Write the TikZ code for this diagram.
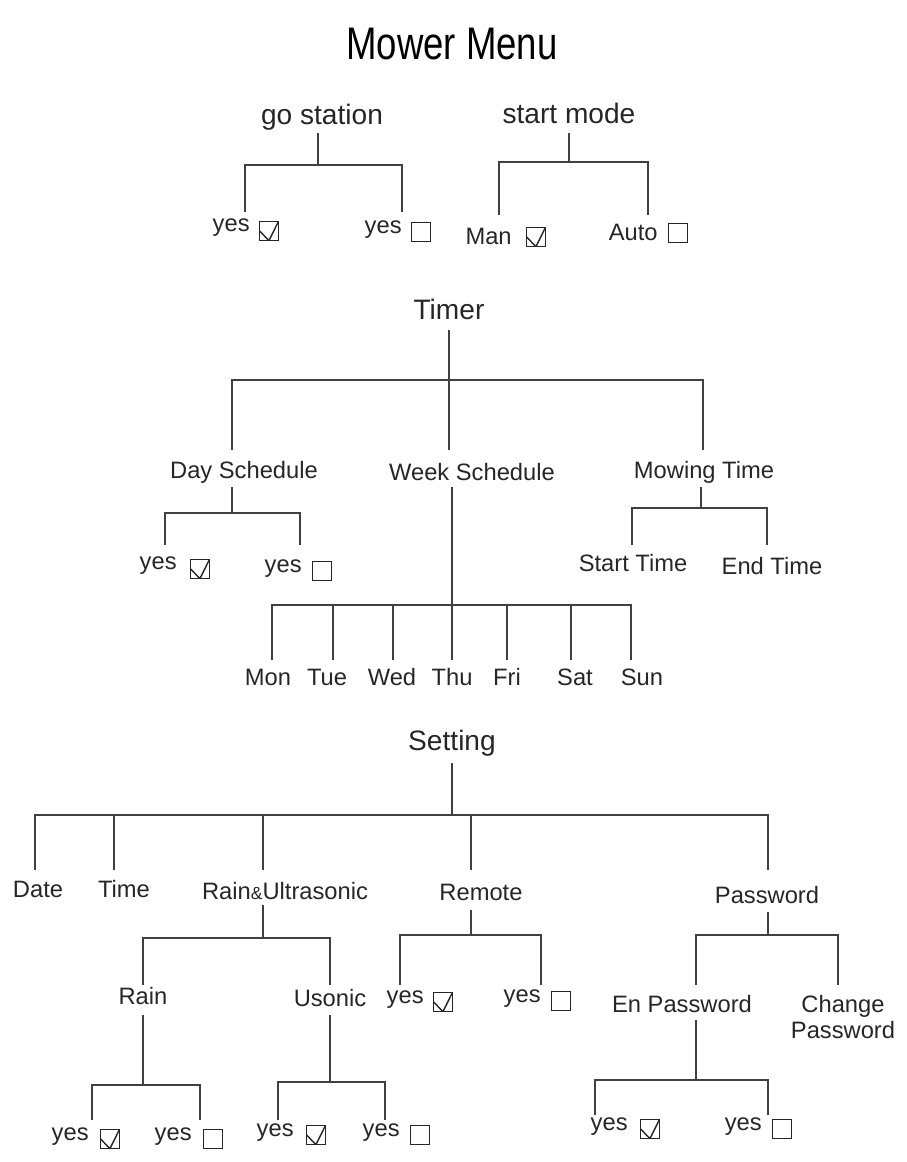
\documentclass[tikz,border=0pt]{standalone}
\usepackage{fontspec}
\setmainfont{Liberation Sans}
\begin{document}
\begin{tikzpicture}[x=0.02cm,y=-0.02cm,
  t/.style={font=\fontsize{13.5}{15}\selectfont,inner sep=0pt,text=black!85},
  ln/.style={draw=black!75,line width=0.9pt},
  box/.style={draw=black!85,line width=0.8pt,minimum size=0.38cm,inner sep=0pt},
  cbox/.style={box,path picture={\draw[black!85,line width=0.8pt]
     ([shift={(0.08,0.0)}]path picture bounding box.west) -- ([shift={(-0.02,0.08)}]path picture bounding box.south) -- ([shift={(-0.06,-0.02)}]path picture bounding box.north east);}}]
\useasboundingbox (0,0) rectangle (906,1162);
\node[font=\fontsize{26}{30}\selectfont,xscale=0.8,inner sep=0pt] (title) at (452,44) {Mower Menu};
% commands
\newcommand{\yesc}[3]{\node[t,anchor=east] at (#1,#2) {#3}; \node[cbox] at ($(#1,#2)+(20,2)$) {};}
\newcommand{\yesu}[3]{\node[t,anchor=east] at (#1,#2) {#3}; \node[box] at ($(#1,#2)+(20,2)$) {};}
% go station
\node[t,font=\fontsize{16}{18}\selectfont] (gs) at (322,117) {go station};
\draw[ln] (318,133)--(318,165) (245,212)--(245,165)--(402,165)--(402,212);
\node[t,anchor=east] (y1) at (250,228) {yes}; \node[cbox] (c1) at (269,231) {};
\node[t,anchor=east] (y2) at (402,230) {yes}; \node[box] (c2) at (421,232) {};
% start mode
\node[t,font=\fontsize{16}{18}\selectfont] (sm) at (569,113) {start mode};
\draw[ln] (569,133)--(569,162) (499,215)--(499,162)--(648,162)--(648,215);
\node[t,anchor=east] (m1) at (512,236) {Man}; \node[cbox] (c3) at (536,237) {};
\node[t,anchor=east] (a1) at (658,232) {Auto}; \node[box] (c4) at (678,233) {};
% Timer
\node[t,font=\fontsize{16}{18}\selectfont] (timer) at (449,309) {Timer};
\draw[ln] (449,330)--(449,450) (232,450)--(232,380)--(703,380)--(703,450);
\node[t] (ds) at (244,472) {Day Schedule};
\node[t] (ws) at (472,472) {Week Schedule};
\node[t] (mt) at (704,472) {Mowing Time};
\draw[ln] (232,487)--(232,513) (165,545)--(165,513)--(300,513)--(300,545);
\node[t,anchor=east] at (177,566) {yes}; \node[cbox] at (200,569) {};
\node[t,anchor=east] at (302,569) {yes}; \node[box] at (322,571) {};
\draw[ln] (452,487)--(452,660) (272,660)--(272,605)--(631,605)--(631,660);
\foreach \x in {333,393,507,571} \draw[ln] (\x,605)--(\x,660);
\foreach \x/\d in {268/Mon,327/Tue,392/Wed,452/Thu,507/Fri,575/Sat,642/Sun} \node[t] at (\x,677) {\d};
\draw[ln] (701,487)--(701,508) (632,545)--(632,508)--(767,508)--(767,545);
\node[t] at (633,563) {Start Time};
\node[t] at (772,566) {End Time};
% Setting
\node[t,font=\fontsize{16}{18}\selectfont] (set) at (452,743) {Setting};
\draw[ln] (452,763)--(452,815) (35,870)--(35,815)--(768,815)--(768,870);
\foreach \x in {114,263,471} \draw[ln] (\x,815)--(\x,870);
\node[t] at (38,889) {Date};
\node[t] at (124,889) {Time};
\node[t] at (285,891) {Rain{\fontsize{10}{12}\selectfont\&}Ultrasonic};
\node[t] at (481,892) {Remote};
\node[t] at (767,895) {Password};
\draw[ln] (263,905)--(263,938) (143,985)--(143,938)--(330,938)--(330,985);
\node[t] at (143,996) {Rain};
\node[t] at (330,998) {Usonic};
\draw[ln] (143,1015)--(143,1085) (92,1120)--(92,1085)--(200,1085)--(200,1120);
\node[t,anchor=east] at (89,1137) {yes}; \node[cbox] at (110,1139) {};
\node[t,anchor=east] at (192,1137) {yes}; \node[box] at (213,1139) {};
\draw[ln] (330,1015)--(330,1082) (278,1120)--(278,1082)--(385,1082)--(385,1120);
\node[t,anchor=east] at (294,1133) {yes}; \node[cbox] at (316,1135) {};
\node[t,anchor=east] at (400,1133) {yes}; \node[box] at (420,1135) {};
\draw[ln] (471,910)--(471,935) (400,985)--(400,935)--(541,935)--(541,985);
\node[t,anchor=east] at (424,1000) {yes}; \node[cbox] at (443,1002) {};
\node[t,anchor=east] at (541,999) {yes}; \node[box] at (561,1001) {};
\draw[ln] (768,912)--(768,935) (696,985)--(696,935)--(838,935)--(838,985);
\node[t] at (682,1004) {En Password};
\node[t,align=center] at (843,1017) {Change\\Password};
\draw[ln] (696,1020)--(696,1080) (595,1115)--(595,1080)--(768,1080)--(768,1115);
\node[t,anchor=east] at (628,1127) {yes}; \node[cbox] at (650,1129) {};
\node[t,anchor=east] at (762,1127) {yes}; \node[box] at (782,1129) {};
\end{tikzpicture}
\end{document}
